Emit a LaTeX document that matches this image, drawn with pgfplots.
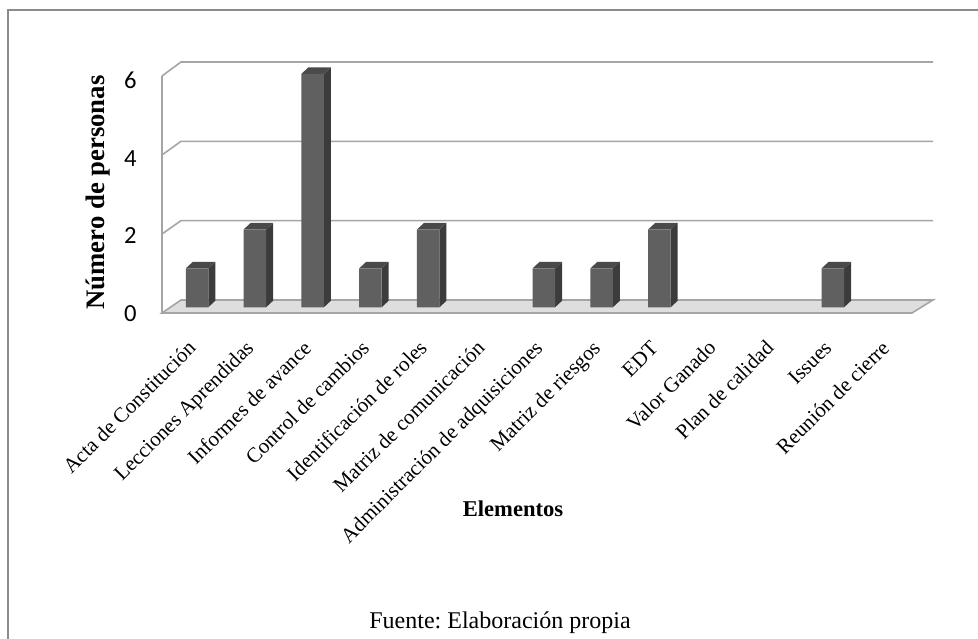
\documentclass[border=0pt]{standalone}
\usepackage{fontspec}
\setmainfont{Liberation Serif}
\newfontfamily\calibri{Carlito}
\usepackage{pgfplots}
\usepackage{pgfplotstable}
\pgfplotsset{compat=1.18}
\frenchspacing

\definecolor{barfront}{RGB}{96,96,96}
\definecolor{barside}{RGB}{60,60,60}
\definecolor{bartop}{RGB}{74,74,74}
\definecolor{wallline}{RGB}{165,165,165}
\definecolor{floorfill}{RGB}{222,222,222}
\definecolor{frameline}{RGB}{140,140,140}

% number of people per element
\pgfplotstableread{
x v
0 1
1 2
2 6
3 1
4 2
5 0
6 1
7 1
8 2
9 0
10 0
11 1
12 0
}\datatable

\begin{document}
\begin{tikzpicture}
\begin{scope}[x=1pt,y=1pt]
\useasboundingbox (0,0) rectangle (978,639);
\draw[frameline, line width=1.5pt] (8,0) -- (8,629) -- (978,629);
% floor
\filldraw[fill=floorfill, draw=wallline, line width=1.6pt]
  (162,326) -- (181,339) -- (933,339) -- (912,326) -- cycle;
% side wall and back wall grid
\draw[wallline, line width=1.6pt] (162,326) -- (162,563);
\foreach \v in {2,4,6}{
  \draw[wallline, line width=1.6pt] (162,{326+39.5*\v}) -- (181,{339+39.67*\v}) -- (933,{339+39.67*\v});
}
\node[font=\bfseries\fontsize{26.7}{30}\selectfont, rotate=90, anchor=base] at (104,446.5) {Número de personas};
\node[font=\bfseries\fontsize{22.6}{26}\selectfont, anchor=base] at (513,122) {Elementos};
\node[font=\fontsize{24}{28}\selectfont, anchor=base] at (500,10) {Fuente: Elaboración propia};
\end{scope}

\begin{axis}[
    at={(168.1pt,331.7pt)}, anchor=south west,
    scale only axis, width=751.4pt, height=233.4pt,
    xmin=-0.5, xmax=12.5, ymin=0, ymax=6,
    clip=false,
    axis line style={draw=none},
    major tick length=0pt,
    xtick={0,...,12},
    xticklabels={Acta de Constitución, Lecciones Aprendidas, Informes de avance,
      Control de cambios, Identificación de roles, Matriz de comunicación,
      Administración de adquisiciones, Matriz de riesgos, EDT, Valor Ganado,
      Plan de calidad, Issues, Reunión de cierre},
    ytick={0,2,4,6},
    /pgf/number format/assume math mode=true,
    xticklabel style={font=\fontsize{21}{24}\selectfont, inner sep=0pt,
      text height=14pt, text depth=4pt, xshift=-10pt, yshift=-32pt,
      rotate=45, anchor=north east},
    yticklabel style={font=\calibri\fontsize{24.6}{28}\selectfont,
      anchor=east, xshift=-28pt, yshift=-6.5pt},
]
% side and top faces of the 3D bars
\pgfplotsextra{
  \foreach \i in {0,...,12}{
    \pgfplotstablegetelem{\i}{v}\of{\datatable}
    \let\v\pgfplotsretval
    \ifdim\v pt>0pt
      \fill[barside] ([xshift=11.25pt]axis cs:\i,0) -- ([xshift=18.25pt,yshift=6.5pt]axis cs:\i,0)
        -- ([xshift=18.25pt,yshift=6.5pt]axis cs:\i,\v) -- ([xshift=11.25pt]axis cs:\i,\v) -- cycle;
      \fill[bartop] ([xshift=-11.25pt]axis cs:\i,\v) -- ([xshift=11.25pt]axis cs:\i,\v)
        -- ([xshift=18.25pt,yshift=6.5pt]axis cs:\i,\v) -- ([xshift=-4.25pt,yshift=6.5pt]axis cs:\i,\v) -- cycle;
    \fi
  }
}
\addplot[ybar, bar width=22.5pt, fill=barfront, draw=none,
  y filter/.expression={y>0 ? y : nan}] table[x=x, y=v]{\datatable};
\end{axis}
\end{tikzpicture}
\end{document}
